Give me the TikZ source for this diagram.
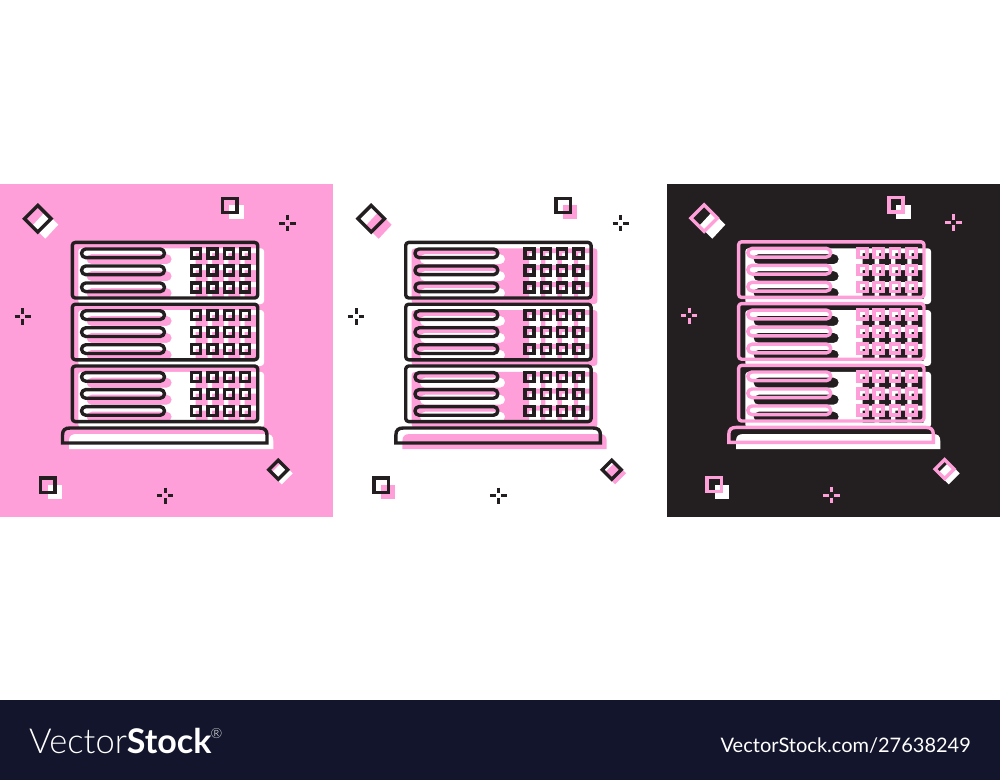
\documentclass[tikz,border=0pt]{standalone}
\usepackage{fontspec}
\newfontfamily\logolight{Lato Light}
\newfontfamily\logobold{Lato}[BoldFont={Lato Bold}]
\definecolor{pinkbg}{HTML}{FF9FD9}
\definecolor{inkdark}{HTML}{231F20}
\definecolor{footerbg}{HTML}{12152B}
\tikzset{
  iconline/.style={line width=3.4pt,line join=round},
  sharpline/.style={line width=3.4pt,line join=miter},
  sparkbar/.style={line width=3pt},
}
\newcommand{\serverrack}[5]{%
% #1 panel x, #2 line colour, #3 shadow colour, #4 #5 line offset
\begin{scope}[shift={(#1,184)}]
  % shadow
  \fill[#3,even odd rule]
    \foreach \t in {64.3,126.1,187.9}{
      [rounded corners=3pt] (78.3,\t) rectangle (264,\t+55.7)
    }
    \foreach \t in {64.3,126.1,187.9}{
      \foreach \r in {10.8,27.8,44.8}{
        [rounded corners=5pt] (86.5,\t+\r-5) rectangle (171.7,\t+\r+5)
      }
    }
    \foreach \t in {64.3,126.1,187.9}{
      \foreach \r in {10.8,27.8,44.8}{
        \foreach \c in {201.7,218,234.4,250.7}{
          [sharp corners] (\c-6,\t+\r-6) rectangle (\c+6,\t+\r+6)
        }
      }
    };
  \fill[#3] (69,265) -- (69,257) .. controls (69,252) and (71.5,250) .. (76.5,250) -- (266,250) .. controls (271,250) and (273.3,252) .. (273.3,257) -- (273.3,265) -- cycle;
  % shadows of the loose shapes
  \fill[#3] (45.3,27.7) -- (58.3,40.7) -- (45.3,54.7) -- (32.3,41.7) -- cycle;
  \fill[#3] (281.7,278.3) -- (292.7,289.3) -- (281.7,300.3) -- (270.7,289.3) -- cycle;
  \fill[#3] (229.3,20.7) rectangle (243.7,35);
  \fill[#3] (47.7,300.7) rectangle (62,315);
  % lines
  \begin{scope}[shift={(#4,#5)}]
    \foreach \t in {58.4,120.2,182}{
      \draw[#2,iconline,rounded corners=3pt] (72.3,\t) rectangle (257.7,\t+55.6);
      \foreach \r in {10.9,27.9,44.9}{
        \draw[#2,iconline,rounded corners=4.35pt] (81.5,\t+\r-4.35) rectangle (164.5,\t+\r+4.35);
        \foreach \c in {196,212.3,228.7,245}{
          \draw[#2,sharpline] (\c-4.5,\t+\r-4.5) rectangle (\c+4.5,\t+\r+4.5);
        }
      }
    }
    \draw[#2,sharpline] (62.5,259) -- (62.5,251) .. controls (62.5,246) and (65,244) .. (70,244) -- (259.5,244) .. controls (264.5,244) and (267,246) .. (267,251) -- (267,259) -- cycle;
    \draw[#2,sharpline] (37.8,21.4) -- (51.1,34.7) -- (37.8,48) -- (24.5,34.7) -- cycle;
    \draw[#2,sharpline] (278.3,276.2) -- (287.8,285.7) -- (278.3,295.2) -- (268.8,285.7) -- cycle;
    \draw[#2,sharpline] (222.5,14.2) rectangle (236.8,28.5);
    \draw[#2,sharpline] (40.7,294) rectangle (55,308.3);
    \foreach \px/\py in {287.3/39,22.7/132.3,165/311.7}{
      \draw[#2,sparkbar] (\px-8.2,\py) -- (\px-2.7,\py);
      \draw[#2,sparkbar] (\px+2.7,\py) -- (\px+8.2,\py);
      \draw[#2,sparkbar] (\px,\py-8.2) -- (\px,\py-2.7);
      \draw[#2,sparkbar] (\px,\py+2.7) -- (\px,\py+8.2);
    }
  \end{scope}
\end{scope}}
\begin{document}
\begin{tikzpicture}[x=1pt,y=-1pt]
\useasboundingbox (0,0) rectangle (1000,780);
\fill[white] (0,0) rectangle (1000,780);
\fill[pinkbg] (0,184) rectangle (333,517);
\fill[inkdark] (667,184) rectangle (1000,517);
\fill[footerbg] (0,700) rectangle (1000,780);
\serverrack{0}{inkdark}{white}{0}{0}
\serverrack{333.4}{inkdark}{pinkbg}{0}{0}
\serverrack{667}{pinkbg}{white}{-0.7}{-0.6}
\node[anchor=base west,inner sep=0pt,text=white] (logo) at (29,753) {{\logolight\fontsize{34.5}{35}\selectfont Vector}{\logobold\bfseries\fontsize{34}{35}\selectfont Stock}};
\node[anchor=base west,inner sep=0pt,text=white,font=\logolight\fontsize{14}{14}\selectfont] (reg) at (210.5,738) {®};
\node[anchor=base east,inner sep=0pt,text=white,font=\logobold\fontsize{20}{20}\selectfont] (url) at (971,752) {VectorStock.com/27638249};
\end{tikzpicture}
\end{document}
